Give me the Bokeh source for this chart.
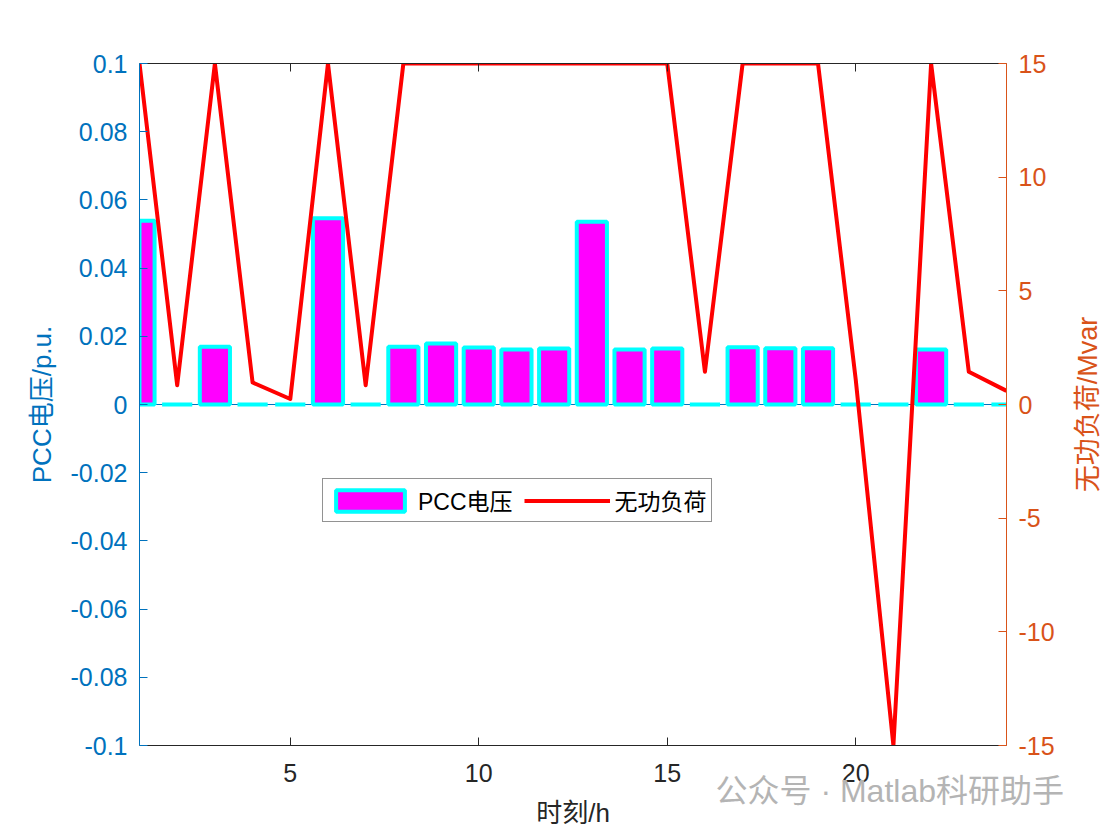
import math
from bokeh.plotting import figure
from bokeh.models import (Range1d, LinearAxis, FixedTicker, Legend, LegendItem,
                          Span, Title)
from bokeh.embed import file_html
from bokeh.resources import INLINE

# ---------------- data ----------------
hours = list(range(1, 25))
pcc_voltage = [0.0539, 0.0, 0.0169, 0.0, 0.0, 0.0546, 0.0, 0.0169, 0.0179, 0.0167,
               0.0161, 0.0164, 0.0536, 0.0161, 0.0164, 0.0, 0.0168, 0.0165, 0.0165,
               0.0, 0.0, 0.0161, 0.0, 0.0]
reactive_load = [15, 0.85, 15, 0.97, 0.24, 15, 0.85, 15, 15, 15, 15, 15, 15, 15, 15,
                 1.44, 15, 15, 15, 1.1, -15, 15, 1.44, 0.6]
x_ticks = [5, 10, 15, 20]
y_left_ticks = [-0.1, -0.08, -0.06, -0.04, -0.02, 0, 0.02, 0.04, 0.06, 0.08, 0.1]
y_left_labels = ["-0.1", "-0.08", "-0.06", "-0.04", "-0.02", "0", "0.02", "0.04",
                 "0.06", "0.08", "0.1"]
y_right_ticks = [-15, -10, -5, 0, 5, 10, 15]
y_right_labels = ["-15", "-10", "-5", "0", "5", "10", "15"]

BLUE = "#0072BD"
ORANGE = "#D95319"
DARK = "#262626"
FONT = "Liberation Sans, Noto Sans CJK SC"
W, H = 1103, 830

p = figure(width=W, height=H, x_range=Range1d(1, 24), y_range=Range1d(-0.1, 0.1),
           output_backend="svg", toolbar_location=None,
           min_border_left=139, min_border_right=97, min_border_top=63,
           min_border_bottom=83)
p.extra_y_ranges = {"q": Range1d(-15, 15)}
p.grid.visible = False
p.outline_line_color = None
p.background_fill_color = "white"
p.border_fill_color = "white"

# baseline
p.add_layout(Span(location=0, dimension="width", line_color=BLUE, line_width=1,
                  level="underlay"))

bars = p.vbar(x=hours, top=pcc_voltage, bottom=0, width=0.8,
              fill_color="#FF00FF", line_color="#00FFFF", line_width=4)
line = p.line(hours, reactive_load, y_range_name="q", line_color="#FF0000",
              line_width=4, line_join="round")

# bottom axis
xa = p.xaxis[0]
xa.ticker = FixedTicker(ticks=x_ticks)
xa.axis_label = "时刻/h"
xa.axis_line_color = DARK
xa.major_tick_line_color = DARK
xa.major_tick_in = 8
xa.major_tick_out = 0
xa.minor_tick_line_color = None
xa.major_label_text_color = DARK
xa.major_label_text_font = FONT
xa.major_label_text_font_size = "25px"
xa.major_label_standoff = 18
xa.axis_label_text_font = FONT
xa.axis_label_text_font_size = "26px"
xa.axis_label_text_font_style = "normal"
xa.axis_label_text_color = DARK
xa.axis_label_standoff = 13

# top axis (box)
ta = LinearAxis(ticker=FixedTicker(ticks=x_ticks), axis_line_color=DARK,
                major_tick_line_color=DARK, major_tick_in=8, major_tick_out=0,
                minor_tick_line_color=None, major_label_text_color=None,
                major_label_text_font_size="1px", major_label_standoff=0)
p.add_layout(ta, "above")

# left axis
ya = p.yaxis[0]
ya.ticker = FixedTicker(ticks=y_left_ticks)
ya.major_label_overrides = {t: s for t, s in zip(y_left_ticks, y_left_labels)}
ya.axis_label = "PCC电压/p.u."
ya.axis_line_color = BLUE
ya.major_tick_line_color = BLUE
ya.major_tick_in = 8
ya.major_tick_out = 0
ya.minor_tick_line_color = None
ya.major_label_text_color = BLUE
ya.major_label_text_font = FONT
ya.major_label_text_font_size = "25px"
ya.major_label_standoff = 12
ya.axis_label_text_font = FONT
ya.axis_label_text_font_size = "26px"
ya.axis_label_text_font_style = "normal"
ya.axis_label_text_color = BLUE
ya.axis_label_standoff = 11

# right axis (ticks + tick labels)
ra = LinearAxis(y_range_name="q", ticker=FixedTicker(ticks=y_right_ticks),
                axis_line_color=ORANGE, major_tick_line_color=ORANGE,
                major_tick_in=8, major_tick_out=0, minor_tick_line_color=None,
                major_label_text_color=ORANGE, major_label_text_font=FONT,
                major_label_text_font_size="25px", major_label_standoff=12)
ra.major_label_overrides = {t: s for t, s in zip(y_right_ticks, y_right_labels)}
p.add_layout(ra, "right")

# right-axis title: a left-side Title (reads bottom-to-top) pushed over to the right
rt = Title(text="无功负荷/Mvar", align="center", vertical_align="bottom",
           standoff=-2158, text_font=FONT, text_font_size="27px",
           text_font_style="normal", text_color=ORANGE)
p.add_layout(rt, "left")

# watermark (as a title in the bottom panel, pulled up next to the x axis)
wm = Title(text="公众号 · Matlab科研助手", align="left", offset=576,
           vertical_align="top", standoff=-115, text_font=FONT,
           text_font_size="32px", text_font_style="normal", text_color="#B4B4B4")
p.add_layout(wm, "below")

legend = Legend(items=[LegendItem(label="PCC电压", renderers=[bars]),
                       LegendItem(label="无功负荷", renderers=[line])],
                location=(183, 223), orientation="horizontal",
                glyph_width=86, glyph_height=27, label_standoff=5, spacing=11,
                padding=4, margin=0, border_line_color=DARK, border_line_width=1,
                label_text_font=FONT, label_text_font_size="23px",
                label_text_color="#000000", background_fill_alpha=1)
p.add_layout(legend)

open("out.html", "w").write(file_html(p, INLINE))
